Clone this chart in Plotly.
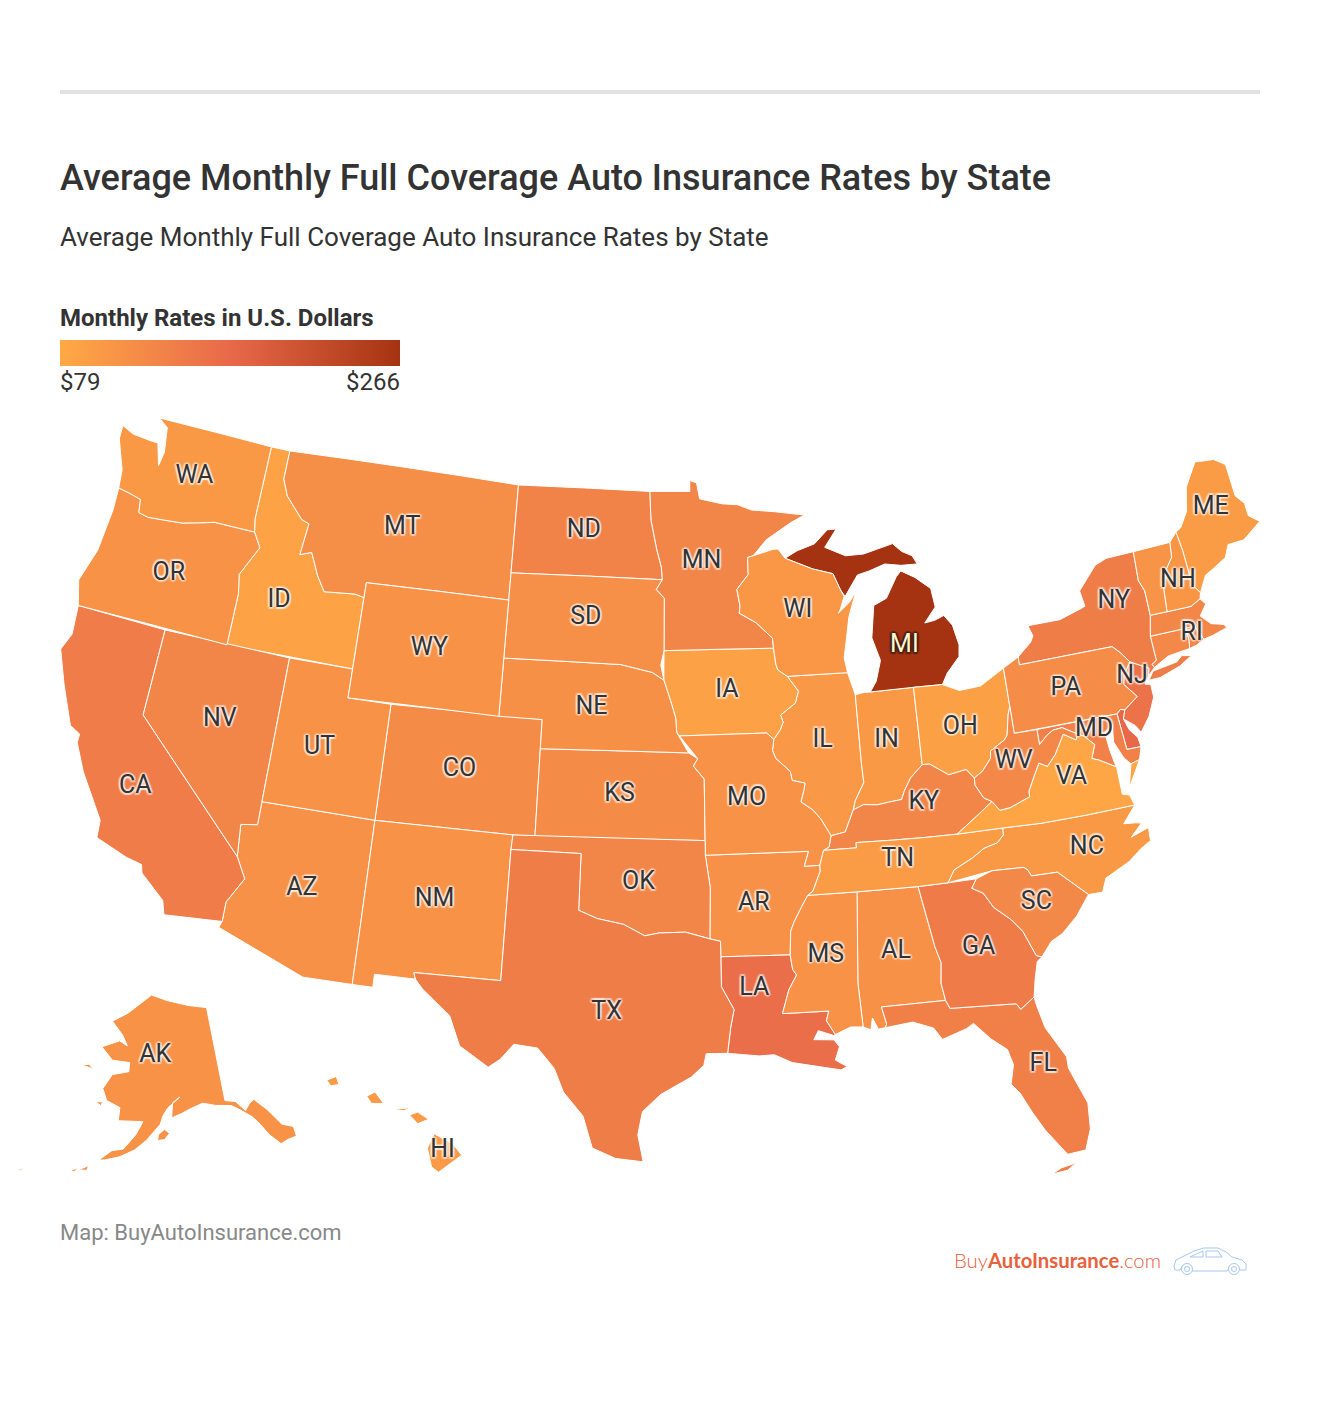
import plotly.graph_objects as go
from plotly.colors import sample_colorscale

# state codes, monthly rates
STATES = ["AL","AK","AZ","AR","CA","CO","CT","DE","FL","GA","HI","ID","IL","IN","IA","KS","KY","LA","ME","MD","MA","MI","MN","MS","MO","MT","NE","NV","NH","NJ","NM","NY","NC","ND","OH","OK","OR","PA","RI","SC","SD","TN","TX","UT","VT","VA","WA","WV","WI","WY"]
RATES = [114,113,114,114,145,122,127,172,139,146,101,88,104,102,90,122,131,165,98,137,128,266,130,112,112,118,116,130,107,158,112,143,103,135,92,131,113,121,130,126,117,100,143,112,109,85,102,127,105,112]

# only these carry a label on the map
LABEL_STATES = ["AL","AK","AZ","AR","CA","CO","FL","GA","HI","ID","IL","IN","IA","KS","KY","LA","ME","MD","MN","MS","MO","MT","NE","NV","NH","NJ","NM","NY","NC","ND","OH","OK","OR","PA","RI","SC","SD","TN","TX","UT","VA","WA","WV","WI","WY"]
LABEL_LON = [-86.8,-155.2,-111.7,-92.6,-119.55,-105.6,-81.5,-83.4,-155.5,-115.05,-89.2,-86.3,-93.5,-98.4,-84.95,-92.7,-69.1,-76.95,-94.6,-89.7,-92.75,-109.7,-99.8,-116.6,-71.6,-74.75,-106.1,-74.8,-78.25,-100.55,-82.9,-97.5,-120.5,-77.85,-71.6,-80.75,-100.25,-86.35,-98.7,-111.95,-78.35,-120.5,-80.75,-89.95,-107.6]
LABEL_LAT = [32.85,65.3,34.3,34.8,36.55,39.05,28.35,32.65,19.65,43.85,40.25,40.05,42.1,38.55,37.8,31.9,45.8,39.35,46.55,32.9,38.4,47.05,41.5,39.45,43.65,40.85,34.55,43.5,35.45,47.55,40.2,35.55,43.9,40.9,41.8,33.9,44.55,35.95,31.1,39.15,37.9,47.35,38.75,44.75,43.05]

# shared borders, (lon, lat)
UPPER_MISS = [(-92.01,46.71),(-92.29,46.66),(-92.29,46.07),(-92.88,45.57),(-92.75,45.0),(-92.80,44.75),(-92.0,44.40),(-91.25,43.85),(-91.22,43.5)]
MID_MISS = [(-91.22,43.5),(-91.15,42.95),(-91.07,42.75),(-90.64,42.51),(-90.16,41.98),(-90.34,41.58),(-91.05,41.2),(-90.95,40.95),(-91.1,40.7),(-91.42,40.38)]
MO_IL = [(-91.42,40.38),(-91.5,40.0),(-91.37,39.73),(-90.75,39.26),(-90.68,38.95),(-90.12,38.83),(-90.18,38.62),(-90.35,38.2),(-89.85,37.9),(-89.52,37.57),(-89.13,36.98)]
LOW_MISS = [(-89.5,36.5),(-89.7,36.0),(-89.7,35.8),(-90.07,35.13),(-90.30,35.0),(-90.6,34.6),(-90.95,34.1),(-91.1,33.8),(-91.17,33.0),(-91.1,32.5),(-90.95,32.3),(-91.3,31.8),(-91.6,31.0)]
OHIO_IL = [(-89.13,36.98),(-88.5,37.07),(-88.07,37.8)]
OHIO_IN = [(-88.07,37.8),(-87.6,37.95),(-87.0,37.9),(-86.5,37.95),(-85.9,38.0),(-85.75,38.27),(-85.4,38.7),(-84.82,39.10)]
OHIO_OH = [(-84.82,39.10),(-84.5,39.1),(-83.7,38.65),(-82.9,38.75),(-82.59,38.42)]
OHIO_WV = [(-82.59,38.42),(-82.2,38.6),(-81.75,39.0),(-81.7,39.25),(-81.0,39.55),(-80.85,39.7),(-80.65,40.4),(-80.52,40.64)]
WABASH = [(-88.07,37.8),(-87.95,38.1),(-87.5,38.7),(-87.53,39.35)]
TUG = [(-82.59,38.42),(-82.6,38.17),(-82.3,37.7),(-81.97,37.54)]
KY_VA = [(-81.97,37.54),(-82.72,37.12),(-83.67,36.6)]
KY_TN = [(-83.67,36.6),(-85.0,36.62),(-86.5,36.65),(-88.07,36.68),(-88.07,36.5),(-89.5,36.5)]
TN_NC = [(-81.68,36.59),(-81.7,36.35),(-82.0,36.12),(-82.6,36.0),(-83.1,35.75),(-84.0,35.4),(-84.32,34.99)]
WV_VA = [(-81.97,37.54),(-81.68,37.2),(-81.22,37.24),(-80.3,37.5),(-80.3,37.68),(-79.95,38.18),(-79.65,38.58),(-79.3,38.42),(-78.87,38.77),(-78.35,39.4),(-77.83,39.13),(-77.72,39.32)]
MD_WV = [(-77.72,39.32),(-78.35,39.63),(-78.77,39.6),(-79.07,39.47),(-79.48,39.2),(-79.48,39.72)]
POTOMAC = [(-77.72,39.32),(-77.45,39.2),(-77.05,38.85),(-77.3,38.4),(-77.0,38.3),(-76.3,37.95)]
NC_SC = [(-83.11,35.0),(-82.4,35.2),(-81.05,35.15),(-80.9,35.05),(-80.78,34.82),(-79.67,34.80),(-78.55,33.86)]
GA_SC = [(-83.11,35.0),(-83.35,34.7),(-82.9,34.48),(-82.55,33.95),(-81.9,33.45),(-81.5,33.0),(-81.1,32.1),(-80.88,32.03)]
GA_FL = [(-81.45,30.71),(-82.05,30.36),(-82.2,30.57),(-84.86,30.71)]
GA_AL = [(-84.86,30.71),(-85.0,31.0),(-85.1,31.6),(-85.0,32.3),(-85.18,32.87),(-85.6,34.98)]
AR_OK = [(-94.62,36.5),(-94.43,35.4),(-94.48,33.64)]
RED_RIVER = [(-94.48,33.64),(-95.5,33.88),(-96.6,33.85),(-97.2,33.75),(-98.1,34.13),(-99.2,34.3),(-100.0,34.56)]
LA_TX = [(-94.04,33.02),(-94.04,31.99),(-93.55,31.2),(-93.7,30.6),(-93.85,29.7)]
RED_N = [(-97.23,49.0),(-97.15,48.0),(-96.85,47.0),(-96.6,46.35),(-96.56,45.94)]
SD_MN = [(-96.56,45.94),(-96.85,45.6),(-96.45,45.3),(-96.45,43.5)]
MO_RIVER = [(-96.45,42.49),(-96.1,41.7),(-95.9,41.2),(-95.85,40.7)]
KS_MO = [(-95.31,40.0),(-94.9,39.8),(-95.1,39.55),(-94.62,39.1),(-94.62,37.0)]
ID_MT = [(-116.05,48.0),(-115.7,47.45),(-114.75,46.75),(-114.35,46.65),(-114.5,45.55),(-113.95,45.7),(-113.45,44.95),(-113.0,44.45),(-111.5,44.55),(-111.05,44.48)]
SNAKE = [(-116.92,45.99),(-116.5,45.5),(-117.2,44.45),(-117.03,43.8),(-117.03,42.0)]
COLUMBIA = [(-124.0,46.27),(-123.4,46.2),(-122.8,46.1),(-122.7,45.65),(-122.2,45.58),(-121.2,45.65),(-120.5,45.7),(-119.3,45.93),(-118.98,46.0),(-116.92,45.99)]
COLORADO = [(-114.04,36.2),(-114.75,36.1),(-114.63,35.0),(-114.14,34.3),(-114.72,33.4),(-114.72,32.72)]
RIO_GRANDE = [(-106.53,31.78),(-106.2,31.47),(-105.0,30.65),(-104.5,29.65),(-103.3,29.0),(-102.85,29.3),(-102.35,29.85),(-101.4,29.77),(-100.7,29.1),(-100.3,28.3),(-99.5,27.5),(-99.1,26.4),(-98.2,26.06),(-97.15,25.96)]
TX_COAST = [(-97.15,25.96),(-97.37,26.9),(-97.2,27.7),(-96.5,28.3),(-95.3,28.9),(-94.8,29.3),(-94.7,29.7),(-93.85,29.7)]
DE_MD = [(-75.79,39.72),(-75.69,38.46),(-75.05,38.45)]
NY_NJ_PA = [(-75.35,42.0),(-75.05,41.75),(-74.7,41.36)]
NJ_PA = [(-74.7,41.36),(-75.1,40.95),(-75.2,40.65),(-74.72,40.15),(-75.4,39.8)]
VT_NH = [(-71.5,45.01),(-71.6,44.5),(-72.05,44.1),(-72.35,43.5),(-72.46,42.73)]
NH_ME = [(-71.08,45.3),(-71.0,44.6),(-70.98,43.4),(-70.7,43.07)]
NY_VT = [(-73.34,45.01),(-73.43,44.0),(-73.25,43.6),(-73.27,42.75)]


def rev(seg):
    return seg[::-1]


WA = [[(-124.73,48.38),(-124.1,48.2),(-123.1,48.15),(-122.75,48.15),(-122.4,47.4),(-122.3,47.9),(-122.5,48.75),(-123.03,49.0),(-117.03,49.0),(-117.04,46.42)] + rev(COLUMBIA) + [(-124.1,46.9),(-124.7,47.9)]]
OR = [COLUMBIA + SNAKE + [(-124.21,42.0),(-124.55,42.84),(-124.1,44.0),(-123.95,45.5)]]
CA = [[(-124.21,42.0),(-120.0,42.0),(-120.0,39.0)] + COLORADO[2:] + [(-117.12,32.53),(-117.3,33.0),(-118.4,33.75),(-118.5,34.03),(-119.2,34.15),(-120.6,34.55),(-120.65,35.15),(-121.9,36.6),(-122.5,37.5),(-122.5,37.8),(-123.0,38.0),(-123.8,39.3),(-124.4,40.4),(-124.1,41.0)]]
NV = [[(-120.0,42.0),(-114.04,42.0),(-114.04,37.0)] + COLORADO[:3] + [(-120.0,39.0)]]
ID = [[(-117.03,49.0),(-116.05,49.0)] + ID_MT + [(-111.05,42.0)] + rev(SNAKE) + [(-117.04,46.42)]]
MT = [[(-116.05,49.0),(-104.05,49.0),(-104.05,45.0),(-111.05,45.0)] + rev(ID_MT)]
WY = [[(-111.05,45.0),(-104.05,45.0),(-104.05,41.0),(-111.05,41.0)]]
UT = [[(-114.04,42.0),(-111.05,42.0),(-111.05,41.0),(-109.05,41.0),(-109.05,37.0),(-114.04,37.0)]]
CO = [[(-109.05,41.0),(-102.05,41.0),(-102.05,40.0),(-102.04,37.0),(-103.0,37.0),(-109.05,37.0)]]
AZ = [[(-114.04,37.0),(-109.05,37.0),(-109.05,31.33),(-111.07,31.33),(-114.81,32.5)] + rev(COLORADO)]
NM = [[(-109.05,37.0),(-103.0,37.0),(-103.04,36.5),(-103.06,32.0),(-106.62,32.0),(-106.53,31.78),(-108.21,31.78),(-108.21,31.33),(-109.05,31.33)]]
TX = [[(-103.04,36.5),(-100.0,36.5)] + rev(RED_RIVER) + [(-94.04,33.55)] + LA_TX + rev(TX_COAST) + rev(RIO_GRANDE) + [(-106.62,32.0),(-103.06,32.0)]]
OK = [[(-103.0,37.0),(-94.62,37.0),(-94.62,36.5)] + AR_OK[1:] + RED_RIVER[1:] + [(-100.0,36.5),(-103.04,36.5)]]
KS = [[(-102.05,40.0)] + KS_MO + [(-102.04,37.0)]]
NE = [[(-104.05,43.0),(-98.5,43.0),(-97.0,42.75)] + MO_RIVER + [(-95.31,40.0),(-102.05,40.0),(-102.05,41.0),(-104.05,41.0)]]
SD = [[(-104.05,45.94)] + SD_MN + [(-96.6,43.0),(-96.45,42.49),(-97.0,42.75),(-98.5,43.0),(-104.05,43.0)]]
ND = [[(-104.05,49.0)] + RED_N + [(-104.05,45.94)]]
MN = [[(-97.23,49.0),(-95.15,49.0),(-95.15,49.38),(-94.8,49.3),(-94.65,48.74),(-93.5,48.55),(-92.7,48.5),(-92.0,48.3),(-90.8,48.2),(-89.3,48.02),(-90.0,47.8),(-91.3,47.25)] + UPPER_MISS + rev(SD_MN) + rev(RED_N)[1:]]
IA = [[(-96.45,43.5)] + MID_MISS + [(-91.73,40.61),(-95.77,40.58)] + rev(MO_RIVER)]
MO = [[(-95.77,40.58),(-91.73,40.61)] + MO_IL + [(-89.25,36.6),(-89.5,36.5),(-89.7,36.0),(-90.37,36.0),(-90.15,36.5),(-94.62,36.5)] + rev(KS_MO)[:-1] + [(-95.85,40.7)]]
AR = [[(-94.62,36.5),(-90.15,36.5),(-90.37,36.0)] + LOW_MISS[1:9] + [(-94.04,33.02),(-94.04,33.55)] + rev(AR_OK)]
LA = [LOW_MISS[8:] + [(-89.73,31.0),(-89.85,30.67),(-89.53,30.18),(-89.6,30.15),(-90.2,30.35),(-90.4,30.05),(-89.6,30.0),(-89.4,29.75),(-89.6,29.3),(-89.15,29.05),(-89.4,28.95),(-90.2,29.1),(-91.3,29.3),(-92.0,29.6),(-92.6,29.58)] + rev(LA_TX)]
WI = [[(-92.01,46.71),(-91.0,46.9),(-90.75,46.9),(-90.42,46.57),(-89.09,46.14),(-88.1,45.92),(-87.8,45.35),(-87.65,45.1),(-87.9,44.65),(-88.0,44.55),(-87.4,44.9),(-87.05,45.25),(-87.5,44.4),(-87.7,43.7),(-87.9,43.0),(-87.8,42.49)] + rev(MID_MISS[:4])[:-1] + rev(UPPER_MISS)]
IL = [[(-90.64,42.51),(-87.8,42.49),(-87.53,41.71)] + rev(WABASH) + rev(OHIO_IL) + rev(MO_IL)[1:] + rev(MID_MISS[3:])[:-1]]
IN = [[(-87.53,41.71),(-87.2,41.76),(-86.82,41.76),(-84.8,41.76)] + rev(OHIO_IN) + WABASH[1:]]
OH = [[(-84.82,39.10),(-84.8,41.76),(-83.45,41.73),(-82.7,41.45),(-81.7,41.5),(-80.52,41.98)] + rev(OHIO_WV) + rev(OHIO_OH)[1:]]
MI = [
    [(-86.82,41.76),(-86.5,42.1),(-86.2,42.8),(-86.5,43.6),(-86.25,44.7),(-85.6,44.9),(-85.0,45.6),(-84.75,45.78),(-84.1,45.5),(-83.4,45.05),(-83.3,44.4),(-83.9,43.9),(-83.4,43.95),(-82.95,44.07),(-82.6,43.7),(-82.42,43.0),(-82.5,42.6),(-83.15,42.1),(-83.45,41.73),(-84.8,41.76)],
    [(-90.42,46.57),(-89.8,46.8),(-88.9,47.0),(-88.2,47.45),(-87.75,47.45),(-88.4,46.85),(-87.4,46.5),(-86.5,46.5),(-85.0,46.75),(-84.6,46.45),(-84.1,46.25),(-83.9,45.95),(-84.7,45.97),(-85.5,46.08),(-86.3,45.9),(-86.9,45.8),(-87.6,45.1),(-87.8,45.35),(-88.1,45.92),(-89.09,46.14)],
]
KY = [OHIO_IL + OHIO_IN[1:] + OHIO_OH[1:] + TUG[1:] + KY_VA[1:] + KY_TN[1:] + [(-89.25,36.6)]]
TN = [rev(KY_TN) + [(-81.68,36.59)] + TN_NC[1:] + [(-85.6,34.98),(-88.2,35.0),(-90.30,35.0),(-90.07,35.13),(-89.7,35.8),(-89.7,36.0)]]
MS = [[(-90.30,35.0),(-88.2,35.0),(-88.47,31.9),(-88.4,30.37),(-88.9,30.4),(-89.53,30.18),(-89.85,30.67),(-89.73,31.0)] + rev(LOW_MISS[4:])]
AL = [[(-88.2,35.0),(-85.6,34.98)] + rev(GA_AL)[1:-1] + [(-85.0,31.0),(-87.6,31.0),(-87.45,30.4),(-87.52,30.28),(-87.8,30.25),(-88.0,30.65),(-88.1,30.25),(-88.4,30.37),(-88.47,31.9)]]
GA = [[(-85.6,34.98),(-84.32,34.99)] + [(-83.11,35.0)] + GA_SC[1:] + [(-81.1,31.9),(-81.3,31.3)] + GA_FL + GA_AL[1:]]
FL = [
    [(-87.52,30.28),(-86.4,30.38),(-85.6,30.1),(-85.3,29.68),(-84.3,29.95),(-84.0,30.1),(-83.4,29.5),(-82.8,29.05),(-82.65,28.5),(-82.85,27.85),(-82.55,27.5),(-82.2,26.8),(-81.8,26.1),(-81.1,25.15),(-80.4,25.2),(-80.1,25.9),(-80.03,26.8),(-80.55,28.1),(-80.55,28.5),(-81.2,29.6),(-81.4,30.4)] + GA_FL + [(-85.0,31.0),(-87.6,31.0),(-87.45,30.4)],
    [(-81.8,24.55),(-81.2,24.6),(-80.6,24.95),(-80.9,24.8),(-81.4,24.72)],
]
SC = [NC_SC + [(-79.2,33.2),(-79.9,32.7),(-80.4,32.5)] + rev(GA_SC)[:-1]]
NC = [[(-81.68,36.59),(-80.0,36.54),(-78.0,36.54),(-75.87,36.55),(-76.5,36.0),(-76.0,35.95),(-75.75,35.9),(-76.3,35.5),(-75.5,35.7),(-75.53,35.25),(-76.0,35.05),(-76.6,34.7),(-77.7,34.3),(-77.95,33.85)] + rev(NC_SC)[:-1] + [(-84.32,34.99)] + rev(TN_NC)[1:]]
VA = [
    WV_VA + POTOMAC[1:] + [(-76.3,37.55),(-76.3,37.0),(-76.0,36.92),(-75.87,36.55),(-78.0,36.54),(-80.0,36.54),(-81.68,36.59),(-83.67,36.6)] + rev(KY_VA)[1:],
    [(-75.95,37.15),(-75.65,37.95),(-75.24,38.03)],
]
WV = [rev(OHIO_WV) + TUG[1:] + WV_VA[1:] + MD_WV[1:] + [(-80.52,39.72)]]
MD = [[(-79.48,39.72)] + DE_MD + [(-75.24,38.03),(-75.65,37.95),(-75.9,38.2),(-76.2,38.8),(-76.1,39.4),(-76.5,39.2),(-76.45,38.6),(-76.35,38.1),(-76.3,37.95)] + rev(POTOMAC)[1:] + MD_WV[1:-1]]
DE = [[(-75.79,39.72),(-75.6,39.84),(-75.4,39.8),(-75.55,39.5),(-75.4,39.1),(-75.1,38.78),(-75.05,38.45),(-75.69,38.46)]]
PA = [[(-80.52,41.98),(-79.76,42.27),(-79.76,42.0)] + NY_NJ_PA + NJ_PA[1:] + [(-75.6,39.84),(-75.79,39.72),(-80.52,39.72),(-80.52,40.64)]]
NJ = [[(-73.9,41.0),(-74.7,41.36)] + NJ_PA[1:] + [(-75.55,39.5),(-75.1,39.2),(-74.9,38.93),(-74.4,39.4),(-74.0,40.0),(-74.0,40.45),(-74.25,40.5),(-74.0,40.75)]]
NY = [
    [(-79.76,42.27),(-79.05,42.7),(-78.9,42.9),(-79.05,43.27),(-77.5,43.27),(-76.4,43.5),(-76.2,43.55),(-76.3,44.1),(-75.3,44.85),(-74.7,45.0)] + NY_VT + [(-73.5,42.05),(-73.49,41.21),(-73.73,41.1),(-73.65,40.98),(-74.0,40.75),(-73.9,41.0),(-74.7,41.36)] + rev(NY_NJ_PA)[1:] + [(-79.76,42.0)],
    [(-74.03,40.6),(-73.75,40.87),(-72.6,40.98),(-72.3,41.15),(-71.87,41.07),(-72.5,40.82),(-73.5,40.6)],
]
CT = [[(-73.5,42.05),(-71.8,42.02),(-71.79,41.6),(-71.86,41.32),(-72.9,41.25),(-73.65,40.98),(-73.73,41.1),(-73.49,41.21)]]
RI = [[(-71.8,42.02),(-71.38,42.02),(-71.33,41.9),(-71.12,41.5),(-71.5,41.37),(-71.86,41.32),(-71.79,41.6)]]
MA = [[(-73.27,42.75),(-72.46,42.73),(-71.3,42.7),(-70.8,42.87),(-70.6,42.65),(-71.0,42.3),(-70.6,41.95),(-70.0,41.8),(-70.2,42.07),(-69.95,41.68),(-70.65,41.55),(-71.12,41.5),(-71.33,41.9),(-71.38,42.02),(-71.8,42.02),(-73.5,42.05)]]
VT = [NY_VT[:1] + VT_NH + rev(NY_VT)[:-1]]
NH = [VT_NH[:1] + NH_ME + [(-70.8,42.87),(-71.3,42.7)] + rev(VT_NH)[:-1]]
ME = [NH_ME[:1] + [(-70.8,45.4),(-70.3,45.9),(-70.0,46.7),(-69.23,47.46),(-69.0,47.43),(-68.3,47.36),(-67.79,47.07),(-67.78,45.93),(-67.45,45.6),(-67.45,45.15),(-67.0,44.85),(-68.0,44.4),(-68.8,44.4),(-69.1,44.0),(-69.8,43.75),(-70.25,43.6)] + rev(NH_ME)[:-1]]
AK = [
    [(-141.0,69.65),(-141.0,60.3),(-139.0,60.0),(-137.5,58.9),(-136.5,59.45),(-135.4,59.75),(-133.5,58.4),(-131.8,56.6),(-130.0,56.0),(-130.1,55.0),(-131.5,55.0),(-133.0,54.8),(-134.5,56.0),(-135.5,57.2),(-136.5,58.1),(-138.5,59.1),(-140.0,59.7),(-143.0,60.0),(-145.5,60.4),(-148.0,60.0),(-149.8,59.6),(-151.8,59.2),(-151.5,60.7),(-150.0,61.2),(-152.5,60.2),(-153.5,59.4),(-154.0,58.6),(-156.5,57.0),(-158.5,56.0),(-161.0,55.2),(-163.5,54.7),(-164.5,54.6),(-162.5,55.7),(-160.5,56.0),(-158.5,57.5),(-157.3,58.8),(-158.5,58.8),(-162.0,58.7),(-162.0,60.0),(-164.8,60.5),(-166.0,61.6),(-165.0,62.6),(-164.5,63.1),(-161.0,63.6),(-161.0,64.5),(-165.0,64.5),(-168.0,65.6),(-164.0,66.5),(-162.0,66.1),(-163.5,67.1),(-166.7,68.3),(-163.0,69.3),(-156.6,71.35),(-152.0,70.8),(-146.0,70.15)],
    [(-154.5,57.0),(-153.2,57.1),(-152.3,57.7),(-153.2,58.1),(-154.3,57.6)],
    [(-167.5,53.3),(-166.0,53.9),(-166.2,53.4)],
    [(-169.0,52.9),(-167.8,53.5),(-168.0,53.1)],
    [(-174.5,52.0),(-173.0,52.3),(-174.0,52.1)],
    [(-177.0,51.7),(-176.0,52.0),(-176.5,51.7)],
    [(-171.5,63.4),(-168.8,63.3),(-170.0,63.65)],
    [(-167.0,60.2),(-165.7,59.9),(-165.6,60.3)],
]
HI = [
    [(-156.05,19.75),(-155.8,20.25),(-155.1,19.87),(-154.8,19.5),(-155.65,18.92),(-155.9,19.1)],
    [(-156.7,20.9),(-156.4,21.0),(-156.0,20.75),(-156.4,20.6)],
    [(-158.27,21.55),(-157.97,21.7),(-157.65,21.3),(-158.1,21.3)],
    [(-159.75,22.1),(-159.4,22.23),(-159.3,21.95),(-159.6,21.9)],
    [(-157.3,21.1),(-156.7,21.15),(-156.9,21.05)],
]
SHAPES = dict(AL=AL,AK=AK,AZ=AZ,AR=AR,CA=CA,CO=CO,CT=CT,DE=DE,FL=FL,GA=GA,HI=HI,ID=ID,IL=IL,IN=IN,IA=IA,KS=KS,KY=KY,LA=LA,ME=ME,MD=MD,MA=MA,MI=MI,MN=MN,MS=MS,MO=MO,MT=MT,NE=NE,NV=NV,NH=NH,NJ=NJ,NM=NM,NY=NY,NC=NC,ND=ND,OH=OH,OK=OK,OR=OR,PA=PA,RI=RI,SC=SC,SD=SD,TN=TN,TX=TX,UT=UT,VT=VT,VA=VA,WA=WA,WV=WV,WI=WI,WY=WY)

SCALE = [[0,"#ffa945"],[0.5,"#e8694a"],[1,"#a53311"]]
ZMIN, ZMAX = 79, 266
TEXT_DARK = "#333333"
W, H = 1320, 1410


def clockwise(ring):
    # d3 wants outer rings clockwise or the fill covers the whole globe
    area = sum(a[0]*b[1] - b[0]*a[1] for a, b in zip(ring, ring[1:] + ring[:1]))
    return ring if area < 0 else ring[::-1]


def rate_color(rate):
    return sample_colorscale(SCALE, (rate - ZMIN) / (ZMAX - ZMIN))[0]


def halo(rgb, alpha):
    # text-shadow ring round the glyphs
    c = f"rgba({rgb},{alpha})"
    return ", ".join(f"{dx}px {dy}px 1px {c}" for dx, dy in
                     [(2,0),(-2,0),(0,2),(0,-2),(1.5,1.5),(-1.5,1.5),(1.5,-1.5),(-1.5,-1.5)])


fig = go.Figure()

for code, rate in zip(STATES, RATES):
    lons, lats = [], []
    for ring in SHAPES[code]:
        ring = clockwise(ring)
        ring = ring + ring[:1]
        lons += [p[0] for p in ring] + [None]
        lats += [p[1] for p in ring] + [None]
    fig.add_trace(go.Scattergeo(lon=lons[:-1], lat=lats[:-1], mode="lines", fill="toself",
        fillcolor=rate_color(rate), line=dict(color="white", width=1), name=code,
        text=f"{code}: ${rate}", hoverinfo="text", showlegend=False))

# state labels, MI gets the light text
fig.add_trace(go.Scattergeo(lon=LABEL_LON, lat=LABEL_LAT, text=LABEL_STATES,
    mode="text", hoverinfo="skip", showlegend=False,
    textfont=dict(family="Roboto", size=25, color=TEXT_DARK, shadow=halo("255,255,255", 0.4))))
fig.add_trace(go.Scattergeo(lon=[-85.0], lat=[43.2], text=["MI"], mode="text", hoverinfo="skip", showlegend=False,
    textfont=dict(family="Roboto", size=25, color="#fff7d0", shadow=halo("60,30,20", 0.6))))

# albers usa frames its whole inset box unless the axis ranges are narrowed, and it clips to that frame
fig.update_geos(scope="usa", projection_type="albers usa",
    lonaxis_range=[-120.8, -71.2], lataxis_range=[24, 52],
    domain=dict(x=[0, 1], y=[1-1224.5/H, 1-357.5/H]),
    showland=False, showlakes=False, showsubunits=False, showcountries=False,
    showcoastlines=False, showframe=False, showocean=False, showrivers=False,
    bgcolor="rgba(0,0,0,0)")


def txt(x, y, s, size, color=TEXT_DARK, weight=400, anchor="left", family="Roboto"):
    # annotations carry about 2px of padding
    x = x - 2 if anchor == "left" else x + 2
    fig.add_annotation(xref="paper", yref="paper", x=x/W, y=1-y/H, text=s, showarrow=False,
        xanchor=anchor, yanchor="middle", align=anchor,
        font=dict(family=family, size=size, color=color, weight=weight))


fig.add_shape(type="rect", xref="paper", yref="paper", x0=60/W, x1=1260/W, y0=1-90/H, y1=1-94/H,
    fillcolor="#e2e2e2", line_width=0)
txt(60, 178, "Average Monthly Full Coverage Auto Insurance Rates by State", 36, weight=500)
txt(60, 237, "Average Monthly Full Coverage Auto Insurance Rates by State", 26)
txt(60, 318, "Monthly Rates in U.S. Dollars", 24, weight=700)
txt(60, 382, "$79", 24)
txt(400, 382, "$266", 24, anchor="right")
txt(60, 1232, "Map: BuyAutoInsurance.com", 22, color="#888888")
txt(1161, 1260, "Buy<b>AutoInsurance</b>.com", 20.3, color="#e8603c", anchor="right", family="Lato", weight=300)

# car next to the logo
CAR_BLUE = "#a8c8f0"


def pt(x, y):
    return f"{x/W:.5f},{1-y/H:.5f}"


def car_path(points):
    return "M " + " L ".join(pt(*p) for p in points) + " Z"


CAR_BODY = [(1174,1266),(1176,1260),(1184,1256),(1194,1251),(1204,1248),(1218,1248),(1226,1252),(1232,1257),(1242,1260),(1246,1264),(1246,1270),(1240,1270),(1236,1265),(1231,1265),(1227,1271),(1192,1271),(1188,1265),(1183,1265),(1180,1270),(1175,1270)]
CAR_WINDOW = [(1190,1257),(1203,1251),(1203,1257)]
CAR_WINDOW2 = [(1206,1251),(1218,1251),(1222,1257),(1206,1257)]
for outline in [CAR_BODY, CAR_WINDOW, CAR_WINDOW2]:
    fig.add_shape(type="path", xref="paper", yref="paper", path=car_path(outline),
        line=dict(color=CAR_BLUE, width=1), fillcolor="rgba(0,0,0,0)")
for cx in [1187, 1234]:
    for r in [5.5, 2.5]:
        fig.add_shape(type="circle", xref="paper", yref="paper", x0=(cx-r)/W, x1=(cx+r)/W,
            y0=1-(1269+r)/H, y1=1-(1269-r)/H, line=dict(color=CAR_BLUE, width=1), fillcolor="white")

# gradient legend, a colorbar on an empty marker trace
fig.add_trace(go.Scattergeo(lon=[-100, -100], lat=[40, 40], mode="markers", hoverinfo="skip", showlegend=False,
    marker=dict(size=0.01, opacity=0, color=[ZMIN, ZMAX], cmin=ZMIN, cmax=ZMAX, colorscale=SCALE, showscale=True,
        colorbar=dict(orientation="h", x=60/W, xanchor="left", y=1-353/H, yanchor="middle",
            len=340, lenmode="pixels", thickness=26, thicknessmode="pixels",
            outlinewidth=0, showticklabels=False, ticks="", xpad=0, ypad=0, borderwidth=0))))

fig.update_layout(width=W, height=H, margin=dict(l=0, r=0, t=0, b=0), paper_bgcolor="white",
    font=dict(family="Roboto"))
fig.write_html("out.html", config=dict(displayModeBar=False), post_script="document.body.style.margin='0';")
